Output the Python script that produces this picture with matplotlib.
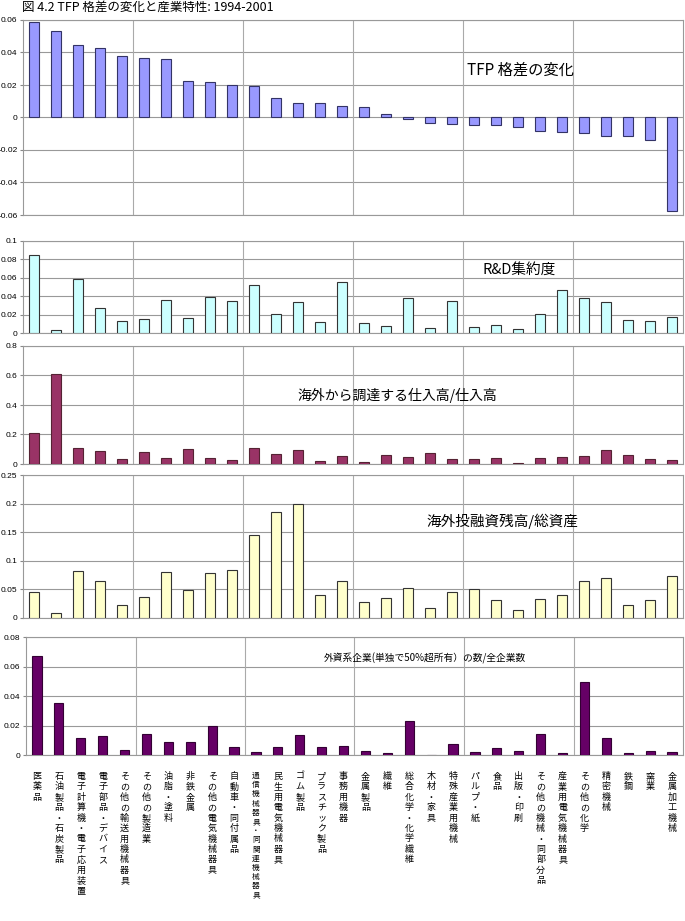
import matplotlib
matplotlib.use("Agg")
import matplotlib.pyplot as plt
import numpy as np

plt.rcParams['font.family'] = ['Noto Sans CJK JP', 'DejaVu Sans']

industries = [
    "医薬品", "石油製品・石炭製品", "電子計算機・電子応用装置", "電子部品・デバイス",
    "その他の輸送用機械器具", "その他の製造業", "油脂・塗料", "非鉄金属",
    "その他の電気機械器具", "自動車・同付属品", "通信機械器具・同関連機械器具",
    "民生用電気機械器具", "ゴム製品", "プラスチック製品", "事務用機器", "金属製品",
    "繊維", "総合化学・化学繊維", "木材・家具", "特殊産業用機械", "パルプ・紙", "食品",
    "出版・印刷", "その他の機械・同部分品", "産業用電気機械器具", "その他の化学",
    "精密機械", "鉄鋼", "窯業", "金属加工機械",
]

tfp_change = [0.0588, 0.0533, 0.0446, 0.0425, 0.0379, 0.0369, 0.0358, 0.0227, 0.0221, 0.0202,
              0.0196, 0.0121, 0.0088, 0.0088, 0.0071, 0.0063, 0.0021, -0.0012, -0.0033, -0.0037,
              -0.0045, -0.0049, -0.0057, -0.0084, -0.0092, -0.0094, -0.0112, -0.0114, -0.0139, -0.0576]
rd_intensity = [0.0849, 0.0029, 0.0586, 0.027, 0.013, 0.0155, 0.036, 0.0162, 0.0392, 0.0349,
                0.0525, 0.0209, 0.0335, 0.0119, 0.0554, 0.0112, 0.0076, 0.0378, 0.0058, 0.0345,
                0.0065, 0.0086, 0.0043, 0.0205, 0.0468, 0.0385, 0.0335, 0.0144, 0.0133, 0.0176]
import_ratio = [0.212, 0.608, 0.108, 0.090, 0.034, 0.079, 0.038, 0.104, 0.043, 0.027,
                0.111, 0.070, 0.095, 0.020, 0.056, 0.014, 0.059, 0.045, 0.077, 0.034,
                0.032, 0.041, 0.007, 0.041, 0.050, 0.052, 0.093, 0.063, 0.034, 0.027]
fdi_ratio = [0.0461, 0.0093, 0.083, 0.0654, 0.0222, 0.0368, 0.080, 0.0485, 0.0794, 0.0841,
             0.1454, 0.1857, 0.1992, 0.0403, 0.0654, 0.0286, 0.0345, 0.0532, 0.0181, 0.0461,
             0.0514, 0.0321, 0.0146, 0.0333, 0.0403, 0.0654, 0.0695, 0.0234, 0.0321, 0.0736]
foreign_share = [0.0674, 0.0352, 0.0117, 0.0126, 0.0034, 0.0143, 0.0085, 0.009, 0.0198, 0.0051,
                 0.0021, 0.0053, 0.0136, 0.0051, 0.0062, 0.0025, 0.0016, 0.023, 0.0, 0.0074,
                 0.0021, 0.0048, 0.003, 0.0143, 0.0014, 0.0492, 0.0113, 0.0011, 0.003, 0.0018]

W, H = 685, 921
fig = plt.figure(figsize=(W / 100, H / 100), dpi=100)

# (values, rect in px: left, top, right, bottom), colors, y ticks, label, label pos, label size
panels = [
    (tfp_change, (23, 20, 683, 215), "#9999FF", "#333366", np.arange(-0.06, 0.061, 0.02),
     "TFP 格差の変化", (0.753, 0.744), 11),
    (rd_intensity, (23, 241, 683, 333), "#CCFFFF", "#333333", np.arange(0, 0.101, 0.02),
     "R&D集約度", (0.752, 0.685), 10.5),
    (import_ratio, (23, 346, 683, 464), "#993366", "#552233", np.arange(0, 0.81, 0.2),
     "海外から調達する仕入高/仕入高", (0.567, 0.585), 10),
    (fdi_ratio, (23, 475, 683, 618), "#FFFFCC", "#333333", np.arange(0, 0.251, 0.05),
     "海外投融資残高/総資産", (0.726, 0.678), 10.5),
    (foreign_share, (26, 637, 683, 755), "#660066", "#330033", np.arange(0, 0.081, 0.02),
     "外資系企業(単独で50%超所有）の数/全企業数", (0.607, 0.822), 7),
]

x = np.arange(len(industries))
for vals, (l, t, r, b), fc, ec, yt, lab, lpos, lsize in panels:
    ax = fig.add_axes([l / W, 1 - b / H, (r - l) / W, (b - t) / H])
    ax.bar(x, vals, width=0.42, color=fc, edgecolor=ec, linewidth=0.8, zorder=3)
    ax.set_xlim(-0.5, len(industries) - 0.5)
    ax.set_ylim(yt[0], yt[-1])
    ax.set_yticks(yt)
    ax.set_yticklabels([f"{v:.2f}".rstrip("0").rstrip(".") if abs(v) > 1e-9 else "0" for v in yt],
                       family=['Liberation Sans', 'DejaVu Sans'], fontsize=6)
    ax.tick_params(axis='y', length=2, pad=2, color="#888888")
    ax.set_xticks([])
    for yv in yt:
        ax.axhline(yv, color="#999999", linewidth=0.8, zorder=1)
    for xv in np.arange(4.5, len(industries) - 1, 5):
        ax.axvline(xv, color="#aaaaaa", linewidth=0.8, zorder=1)
    for s in ax.spines.values():
        s.set_color("#999999")
        s.set_linewidth(0.8)
    ax.text(lpos[0], lpos[1], lab, transform=ax.transAxes, fontsize=lsize,
            ha='center', va='center', zorder=5)

# vertical category labels under the last panel
for i, name in enumerate(industries):
    size = 5.5 if len(name) > 12 else 6.5
    fig.text((26 + (i + 0.5) * 657 / 30) / W, 1 - 772 / H, "\n".join(name),
             ha='center', va='top', fontsize=size, linespacing=1.2)

fig.text(22 / W, 1 - 1 / H, "図 4.2 TFP 格差の変化と産業特性: 1994-2001", fontsize=9,
         ha='left', va='top')

fig.savefig("out.png", dpi=100)
